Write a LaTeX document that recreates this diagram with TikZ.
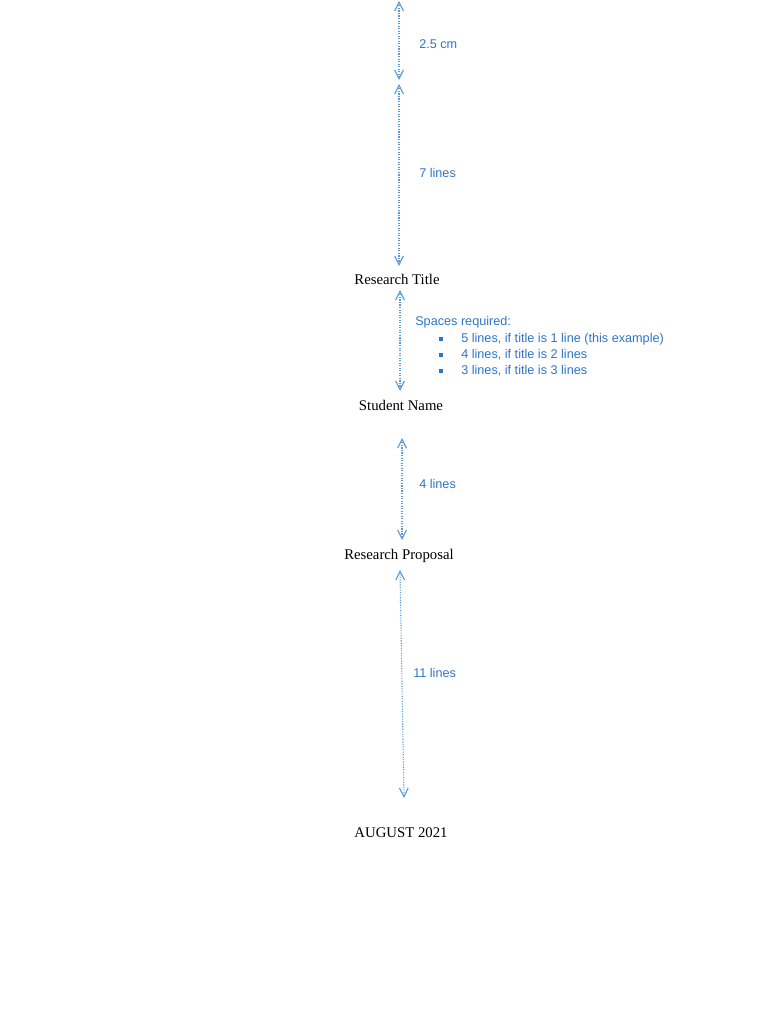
\documentclass[tikz,border=0pt]{standalone}
\usepackage{fontspec}
\setmainfont{Liberation Serif}
\newfontfamily\notefont{Liberation Sans}
\usetikzlibrary{arrows.meta}
\definecolor{notetext}{RGB}{46,117,200}
\definecolor{noteline}{RGB}{91,155,213}
\tikzset{
  heading/.style={inner sep=0pt, font=\fontsize{10.5}{12}\selectfont},
  gap/.style={densely dotted, thick, noteline, {Straight Barb[length=2.2mm,width=2.2mm]}-{Straight Barb[length=2.2mm,width=2.2mm]}},
  note/.style={inner sep=0pt, anchor=west, text=notetext, font=\notefont\fontsize{9}{11}\selectfont},
  bulletmark/.style={fill=notetext, minimum size=1.2mm, inner sep=0pt}
}
\begin{document}
\begin{tikzpicture}[x=0.025cm, y=-0.025cm]
  \useasboundingbox (0,0) rectangle (768,1024);

  % page headings
  \node[heading] (title) at (397,279) {Research Title};
  \node[heading] (student) at (401,405) {Student Name};
  \node[heading] (proposal) at (399,556) {Research Proposal};
  \node[heading] (date) at (401,833) {AUGUST 2021};

  % arrow ends
  \coordinate (m1a) at (399,1);
  \coordinate (m1b) at (399,80);
  \coordinate (m2a) at (399,84);
  \coordinate (m2b) at (399,266);
  \coordinate (m3a) at (400,290);
  \coordinate (m3b) at (400,391);
  \coordinate (m4a) at (402,438);
  \coordinate (m4b) at (402,540);
  \coordinate (m5a) at (400,570);
  \coordinate (m5b) at (404,798);

  \draw[gap] (m1a) -- (m1b);
  \draw[gap] (m2a) -- (m2b);
  \draw[gap] (m3a) -- (m3b);
  \draw[gap] (m4a) -- (m4b);
  \draw[gap] (m5a) -- (m5b);

  % labels
  \node[note] (l1) at (419,44) {2.5 cm};
  \node[note] (l2) at (419,173) {7 lines};
  \node[note] (l4) at (419,484) {4 lines};
  \node[note] (l5) at (413,673) {11 lines};

  \node[note] (req) at (415,322) {Spaces required:};
  \foreach \yy/\txt [count=\i] in {339/{5 lines, if title is 1 line (this example)},
                                   355/{4 lines, if title is 2 lines},
                                   371/{3 lines, if title is 3 lines}} {
    \node[bulletmark] (b\i) at (441,\yy) {};
    \node[note] (r\i) at (461,\yy) {\txt};
  }
\end{tikzpicture}
\end{document}
